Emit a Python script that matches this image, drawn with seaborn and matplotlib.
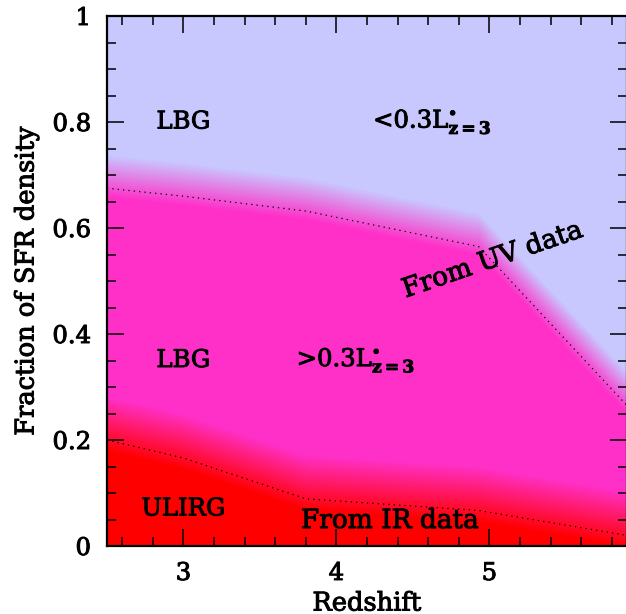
import matplotlib
matplotlib.use("Agg")
import matplotlib.pyplot as plt
import matplotlib.patheffects as pe
import numpy as np
import pandas as pd
import seaborn as sns
from matplotlib.colors import to_rgb
from matplotlib.ticker import MultipleLocator, FixedLocator, FixedFormatter

# Boundary curves
redshift = [2.5, 3.0, 3.8, 4.93, 5.9]
uv_boundary = [0.675, 0.660, 0.632, 0.565, 0.265]   # LBG bright / faint split
ir_boundary = [0.200, 0.166, 0.089, 0.067, 0.020]   # ULIRG / LBG split

x_ticks = [3, 4, 5]
y_ticks = [0, 0.2, 0.4, 0.6, 0.8, 1]
y_tick_labels = ["0", "0.2", "0.4", "0.6", "0.8", "1"]

c_faint = "#C8C8FF"
c_bright = "#FF30C8"
c_ulirg = "#FF0000"

sns.set_style("ticks")
plt.rcParams["font.family"] = ["DejaVu Serif"]
plt.rcParams["mathtext.fontset"] = "dejavuserif"

df = pd.DataFrame({"z": redshift, "uv": uv_boundary, "ir": ir_boundary})


def blend(c1, c2, t):
    a, b = np.array(to_rgb(c1)), np.array(to_rgb(c2))
    return tuple(a + (b - a) * t)


def soft_fill(ax, x, edge, c_low, c_high, lo, hi, n=40):
    # stack fills from the bottom up to shifted copies of the edge, top one first
    edge = np.asarray(edge)
    for i in range(n, -1, -1):
        t = i / n
        ax.fill_between(x, 0, edge + lo + (hi - lo) * t,
                        color=blend(c_low, c_high, t), lw=0)


fig = plt.figure(figsize=(6.26, 6.14), dpi=100)
ax = fig.add_axes([107 / 626, 68 / 614, 520 / 626, 530 / 614])
ax.set_facecolor(c_faint)
ax.set_axisbelow(False)

soft_fill(ax, df["z"], df["uv"], c_bright, c_faint, -0.015, 0.065)
soft_fill(ax, df["z"], df["ir"], c_ulirg, c_bright, -0.02, 0.085)

sns.lineplot(x="z", y="uv", data=df, ax=ax, color="k", lw=0.9,
             linestyle=(0, (1, 3.3)), sort=False)
sns.lineplot(x="z", y="ir", data=df, ax=ax, color="k", lw=0.9,
             linestyle=(0, (1, 3.3)), sort=False)

ax.set_xlim(2.5, 5.9)
ax.set_ylim(0, 1)
ax.xaxis.set_major_locator(FixedLocator(x_ticks))
ax.xaxis.set_minor_locator(MultipleLocator(0.2))
ax.yaxis.set_major_locator(FixedLocator(y_ticks))
ax.yaxis.set_major_formatter(FixedFormatter(y_tick_labels))
ax.yaxis.set_minor_locator(MultipleLocator(0.05))
ax.tick_params(which="both", direction="in", top=True, right=True,
               width=1.1, color="k", labelcolor="k")
ax.tick_params(which="major", length=12.5, labelsize=17.5, pad=11.5)
ax.tick_params(which="minor", length=6.2)
for s in ax.spines.values():
    s.set_linewidth(1.6)
    s.set_color("k")
    s.set_visible(True)

ax.set_xlabel("Redshift", fontsize=18.5, labelpad=4, color="k")
ax.set_ylabel("Fraction of SFR density", fontsize=18.5, labelpad=10, color="k")

txt = dict(fontsize=17.5, color="k")
ax.text(3.0, 0.8, "LBG", ha="center", va="center", **txt)
ax.text(4.24, 0.8, r"<0.3L$^{\bullet}_{\mathbf{z{=}3}}$", ha="left", va="center", **txt)
ax.text(3.0, 0.35, "LBG", ha="center", va="center", **txt)
ax.text(3.74, 0.35, r">0.3L$^{\bullet}_{\mathbf{z{=}3}}$", ha="left", va="center", **txt)
ax.text(3.0, 0.07, "ULIRG", ha="center", va="center", **txt)
ax.text(4.35, 0.048, "From IR data", ha="center", va="center",
        fontsize=19, color="k")
ax.text(5.02, 0.54, "From UV data", ha="center", va="center", rotation=19,
        fontsize=19, color="k")

# the original lettering is a little heavier than DejaVu Serif
heavy = [pe.withStroke(linewidth=0.7, foreground="k")]
for t in ax.texts + ax.get_xticklabels() + ax.get_yticklabels() + [ax.xaxis.label, ax.yaxis.label]:
    t.set_path_effects(heavy)

fig.savefig("out.png", dpi=100)
